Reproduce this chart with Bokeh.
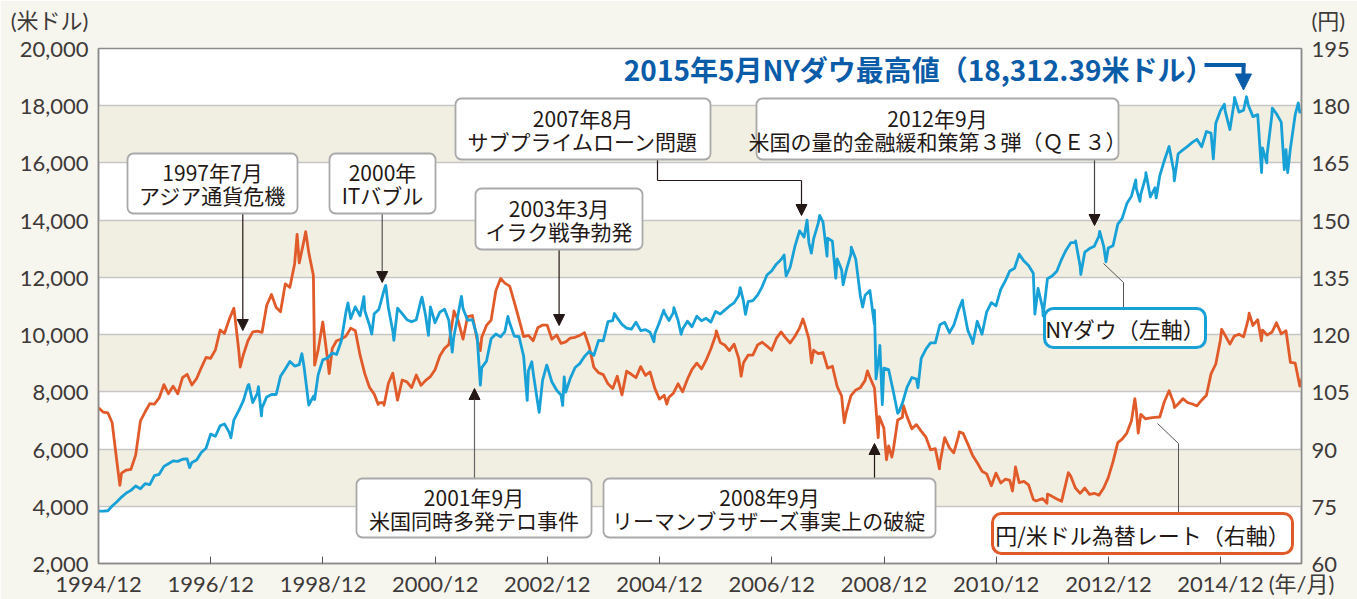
import pandas as pd
import numpy as np
from bokeh.plotting import figure
from bokeh.models import (Range1d, LinearAxis, FixedTicker, NumeralTickFormatter,
                          DatetimeTickFormatter, BoxAnnotation, Label, Arrow, NormalHead)
from bokeh.embed import file_html
from bokeh.resources import INLINE

FONT = "Noto Sans CJK JP"
TICK_FONT = "Lato, Noto Sans CJK JP"

# ---------------- data ----------------
x_tick_dates = ["1994-12-01", "1996-12-01", "1998-12-01", "2000-12-01", "2002-12-01",
                "2004-12-01", "2006-12-01", "2008-12-01", "2010-12-01", "2012-12-01", "2014-12-01"]
x_tick_labels = ["1994/12", "1996/12", "1998/12", "2000/12", "2002/12", "2004/12",
                 "2006/12", "2008/12", "2010/12", "2012/12", "2014/12"]
x_unit = "(年/月)"
dow_ticks = [2000, 4000, 6000, 8000, 10000, 12000, 14000, 16000, 18000, 20000]
dow_unit = "(米ドル)"
yen_ticks = [60, 75, 90, 105, 120, 135, 150, 165, 180, 195]
yen_unit = "(円)"

# NY Dow (US$) month-end values, 1994/12 .. 2016/05
dow_start = ("1994-12-01", 3830)
dow_monthly = [
    3834,
    3843, 4011, 4158, 4321, 4465, 4556, 4708, 4611, 4789, 4756, 5075, 5117,
    5395, 5485, 5587, 5569, 5643, 5655, 5529, 5616, 5882, 6029, 6522, 6448,
    6813, 6878, 6584, 7009, 7331, 7673, 8223, 7622, 7945, 7442, 7823, 7908,
    7907, 8546, 8800, 9063, 8900, 8952, 8883, 7539, 7843, 8592, 9117, 9181,
    9359, 9307, 9786, 10789, 10560, 10971, 10655, 10829, 10337, 10729, 10878, 11497,
    10941, 10128, 10922, 10734, 10522, 10448, 10522, 11215, 10651, 10971, 10415, 10787,
    10887, 10495, 9879, 10735, 10912, 10502, 10523, 9950, 8848, 9075, 9852, 10022,
    9920, 10106, 10404, 9946, 9925, 9243, 8737, 8664, 7592, 8397, 8896, 8342,
    8054, 7891, 7992, 8480, 8850, 8985, 9234, 9416, 9275, 9801, 9782, 10454,
    10488, 10584, 10358, 10226, 10188, 10435, 10140, 10174, 10080, 10027, 10428, 10783,
    10490, 10766, 10504, 10193, 10467, 10275, 10641, 10482, 10569, 10440, 10806, 10718,
    10865, 10993, 11109, 11367, 11168, 11150, 11186, 11381, 11679, 12081, 12222, 12463,
    12622, 12269, 12354, 13063, 13628, 13409, 13212, 13358, 13896, 13930, 13372, 13265,
    12650, 12266, 12263, 12820, 12638, 11350, 11378, 11544, 10851, 9325, 8829, 8776,
    8001, 7250, 7609, 8168, 8500, 8447, 9172, 9496, 9712, 9713, 10345, 10428,
    10067, 10325, 10857, 11009, 10137, 9774, 10466, 10015, 10788, 11118, 11006, 11578,
    11892, 12226, 12320, 12811, 12570, 12414, 12143, 11614, 10913, 11955, 12046, 12218,
    12633, 12952, 13212, 13214, 12393, 12880, 13009, 13091, 13437, 13096, 13026, 13104,
    13861, 14054, 14579, 14840, 15116, 14910, 15500, 14810, 15130, 15546, 16086, 16577,
    15699, 16322, 16458, 16581, 16717, 16827, 16563, 17098, 17043, 17391, 17828, 17823,
    17165, 18133, 17776, 17841, 18011, 17620, 17690, 16528, 16285, 17664, 17720, 17425,
    16466, 16517, 17685, 17774, 17787,
]
# intra-month highs / lows
dow_extra = [
    ("1996-07-16", 5350), ("1997-04-11", 6391), ("1997-08-06", 8259), ("1997-10-07", 8178),
    ("1997-10-27", 7161), ("1998-07-17", 9338), ("1998-10-08", 7732), ("1999-05-13", 11107),
    ("1999-08-25", 11326), ("1999-10-15", 10019), ("2000-01-14", 11723), ("2000-03-07", 9796),
    ("2000-09-06", 11310), ("2000-10-18", 9976), ("2001-03-22", 9389), ("2001-05-21", 11337),
    ("2001-09-21", 8236), ("2002-03-19", 10635), ("2002-07-23", 7702), ("2002-08-22", 9053),
    ("2002-10-09", 7286), ("2002-11-27", 8931), ("2003-03-11", 7524), ("2003-03-21", 8522),
    ("2004-02-11", 10737), ("2004-10-25", 9750), ("2004-12-28", 10854), ("2005-03-04", 10940),
    ("2005-04-20", 10012), ("2006-05-10", 11642), ("2006-06-13", 10707), ("2007-02-20", 12786),
    ("2007-03-05", 12050), ("2007-07-19", 14000), ("2007-08-16", 12846), ("2007-10-09", 14165),
    ("2007-11-26", 12744), ("2008-01-22", 11971), ("2008-03-10", 11740), ("2008-05-02", 13058),
    ("2008-07-15", 10963), ("2008-09-29", 10365), ("2008-10-10", 8451), ("2008-11-04", 9625),
    ("2008-11-20", 7552), ("2009-03-09", 7300), ("2009-07-10", 8146), ("2010-04-26", 11205),
    ("2010-07-02", 9686), ("2011-08-10", 10720), ("2011-10-03", 10655), ("2012-05-01", 13279),
    ("2012-06-04", 12101), ("2012-10-05", 13610), ("2012-11-15", 12543), ("2013-05-28", 15409),
    ("2013-06-24", 14660), ("2013-08-02", 15658), ("2013-10-08", 14776), ("2014-02-03", 15373),
    ("2014-10-15", 16142), ("2014-12-26", 18053), ("2015-03-02", 18288), ("2015-05-19", 18312),
    ("2015-08-25", 15666), ("2015-09-28", 16001), ("2015-11-03", 17918), ("2016-01-20", 15766),
    ("2016-02-11", 15660), ("2016-04-20", 18096),
]

# Yen / US$ month-end values, 1994/12 .. 2016/05
yen_start = ("1994-12-01", 100.8)
yen_monthly = [
    99.7,
    99.5, 96.9, 86.6, 83.7, 84.5, 84.7, 88.4, 97.4, 99.7, 101.9, 101.8, 103.4,
    106.9, 104.5, 106.5, 104.5, 108.7, 109.6, 106.8, 108.5, 111.3, 114.0, 113.8, 116.0,
    121.2, 120.3, 124.0, 126.9, 116.3, 114.6, 118.4, 120.7, 120.9, 120.6, 127.7, 130.5,
    127.1, 126.0, 133.3, 132.4, 138.6, 138.8, 144.7, 141.5, 135.5, 116.0, 123.3, 113.6,
    116.4, 118.4, 118.8, 119.6, 121.7, 121.0, 114.6, 109.7, 106.2, 104.4, 102.1, 102.2,
    107.2, 109.9, 102.8, 108.1, 107.6, 106.1, 109.4, 106.7, 108.0, 109.0, 110.8, 114.4,
    116.4, 117.4, 125.5, 123.6, 118.8, 124.7, 125.0, 118.7, 119.3, 122.4, 123.8, 131.5,
    134.7, 133.5, 132.7, 128.5, 124.0, 119.5, 119.8, 118.4, 121.8, 122.5, 122.5, 118.8,
    119.9, 117.7, 118.1, 119.1, 119.3, 119.8, 120.5, 116.8, 111.4, 110.0, 109.5, 107.1,
    105.9, 109.1, 104.2, 110.4, 109.6, 108.7, 111.6, 109.3, 110.2, 105.9, 103.1, 104.1,
    103.6, 104.6, 107.1, 105.0, 108.3, 110.9, 112.5, 111.0, 113.3, 116.3, 119.7, 117.9,
    117.2, 115.8, 117.5, 113.8, 112.6, 114.6, 114.6, 117.3, 118.0, 117.0, 115.9, 119.0,
    120.7, 119.2, 117.8, 119.5, 121.7, 123.2, 118.9, 115.9, 115.0, 115.3, 111.2, 111.7,
    106.4, 103.9, 99.7, 104.0, 105.5, 106.1, 108.0, 108.8, 106.0, 98.5, 95.5, 90.8,
    89.9, 97.6, 98.3, 98.5, 95.3, 96.4, 94.7, 93.1, 89.8, 90.1, 86.3, 93.0,
    90.3, 89.0, 93.4, 94.1, 91.3, 88.4, 86.4, 84.2, 83.5, 80.4, 83.7, 81.1,
    82.1, 81.8, 83.1, 81.2, 81.5, 80.6, 76.8, 76.6, 77.0, 78.2, 77.6, 76.9,
    76.3, 81.2, 82.9, 79.8, 78.4, 79.8, 78.1, 78.4, 77.9, 79.8, 82.5, 86.7,
    91.7, 92.6, 94.2, 97.4, 100.5, 99.1, 97.9, 98.2, 98.3, 98.4, 102.4, 105.3,
    102.0, 101.8, 103.2, 102.2, 101.8, 101.3, 102.8, 104.1, 109.7, 112.3, 118.6, 119.8,
    117.5, 119.6, 120.1, 119.4, 124.1, 122.4, 123.9, 121.2, 119.9, 120.6, 123.1, 120.2,
    121.0, 112.7, 112.5, 106.5, 110.7,
]
yen_extra = [
    ("1995-04-19", 80.5), ("1997-05-01", 126.8), ("1997-06-11", 111.5), ("1998-06-16", 146.3),
    ("1998-08-11", 147.0), ("1998-10-08", 112.0), ("1999-01-11", 109.8), ("1999-11-26", 101.7),
    ("2000-01-03", 101.5), ("2001-04-02", 126.2), ("2001-09-21", 115.8), ("2005-01-17", 101.8),
    ("2005-12-05", 121.0), ("2006-05-16", 109.1), ("2007-06-22", 124.1), ("2007-08-17", 112.6),
    ("2008-03-17", 96.9), ("2008-08-15", 110.5), ("2008-10-24", 93.0), ("2008-12-17", 87.2),
    ("2009-01-21", 87.9), ("2009-04-06", 101.4), ("2009-11-27", 84.8), ("2010-04-05", 94.5),
    ("2011-03-17", 79.0), ("2011-04-06", 85.3), ("2011-08-19", 76.4), ("2011-10-28", 75.8),
    ("2012-03-15", 83.8), ("2013-05-22", 103.2), ("2013-06-13", 94.2), ("2014-02-04", 100.9),
    ("2014-12-08", 121.4), ("2015-06-05", 125.6), ("2015-08-24", 118.4),
]


# ---------------- helpers ----------------
def to_ms(ts):
    return float(pd.Timestamp(ts).value // 10**6)


def series(start, monthly, extra):
    ends = pd.date_range("1995-01-01", periods=len(monthly), freq="MS") - pd.Timedelta(days=1)
    d = [pd.Timestamp(start[0])] + list(ends) + [pd.Timestamp(a) for a, _ in extra]
    v = [start[1]] + list(monthly) + [b for _, b in extra]
    df = pd.DataFrame({"d": d, "v": v}).sort_values("d")
    return [to_ms(t) for t in df["d"]], df["v"].to_numpy(float)


T0 = to_ms("1994-12-01")
T1 = to_ms("2016-05-11")
FX0, FX1, FY0, FY1 = 98.0, 1301.0, 48.0, 563.0   # frame in page pixels


def X(px):
    return T0 + (px - FX0) / (FX1 - FX0) * (T1 - T0)


def Y(py):
    return 20000 - (py - FY0) / (FY1 - FY0) * 18000


# ---------------- figure ----------------
BG = "#f7f6ee"
BAND = "#f1eee2"
BLUE = "#17a1d7"
ORANGE = "#e15a29"
TXT = "#231815"
AXC = "#8c8c8c"
LBL = "#3e3a39"

p = figure(width=1357, height=599, x_axis_type="datetime",
           x_range=Range1d(T0, T1), y_range=Range1d(2000, 20000),
           output_backend="svg", toolbar_location=None,
           min_border_left=98, min_border_right=56, min_border_top=48, min_border_bottom=36,
           background_fill_color="white", border_fill_color=BG,
           outline_line_color=AXC, outline_line_width=1.5)

x_ticks = [to_ms(d) for d in x_tick_dates]
xa = p.xaxis[0]
xa.ticker = FixedTicker(ticks=x_ticks + [T1])
xa.formatter = DatetimeTickFormatter(years="%Y/%m", months="%Y/%m", days="%Y/%m")
xo = {t: lab for t, lab in zip(x_ticks, x_tick_labels)}
xo[T1] = x_unit
xa.major_label_overrides = xo
xa.major_tick_in = 7
xa.major_tick_out = 0
xa.major_tick_line_color = "#555555"
xa.minor_tick_line_color = None
xa.major_label_standoff = 6

ya = p.yaxis[0]
ya.ticker = FixedTicker(ticks=dow_ticks)
ya.formatter = NumeralTickFormatter(format="0,0")
ya.major_label_overrides = {dow_ticks[-1]: dow_unit + "\n" + "{:,}".format(dow_ticks[-1]) + "\n "}
ya.major_tick_in = 0
ya.major_tick_out = 0
ya.minor_tick_line_color = None
ya.major_label_standoff = 10

p.extra_y_ranges = {"yen": Range1d(yen_ticks[0], yen_ticks[-1])}
ra = LinearAxis(y_range_name="yen", ticker=FixedTicker(ticks=yen_ticks))
ra.major_label_overrides = {yen_ticks[-1]: yen_unit + "\n" + str(yen_ticks[-1]) + "\n "}
ra.major_tick_in = 0
ra.major_tick_out = 0
ra.minor_tick_line_color = None
ra.major_label_standoff = 10
p.add_layout(ra, "right")

for ax in (xa, ya, ra):
    ax.axis_line_color = AXC
    ax.axis_line_width = 1.5
    ax.major_label_text_font = TICK_FONT
    ax.major_label_text_font_size = "22px"
    ax.major_label_text_color = LBL
    ax.major_label_text_line_height = 1.05

p.xgrid.visible = False
p.ygrid.ticker = FixedTicker(ticks=dow_ticks)
p.ygrid.grid_line_color = "#c6c6c6"
p.ygrid.grid_line_width = 1.5

# alternating bands
for i in range(1, len(dow_ticks) - 1, 2):
    p.add_layout(BoxAnnotation(bottom=dow_ticks[i], top=dow_ticks[i + 1],
                               fill_color=BAND, fill_alpha=1, line_alpha=0, level="image"))

# series
yx, yv = series(yen_start, yen_monthly, yen_extra)
dx, dv = series(dow_start, dow_monthly, dow_extra)
p.line(yx, yv, y_range_name="yen", line_color=ORANGE, line_width=2.8, line_join="round")
p.line(dx, dv, line_color=BLUE, line_width=2.8, line_join="round")


# ---------------- annotations ----------------
def label(px, py, text, size="21px", color=TXT, align="center", bold=False):
    p.add_layout(Label(x=X(px), y=Y(py), text=text, text_font=FONT, text_font_size=size,
                       text_color=color, text_align=align, text_baseline="middle",
                       text_font_style="bold" if bold else "normal"))


def box(l, t, r, b, color="#a9a9a9", width=1.8, radius=6):
    p.add_layout(BoxAnnotation(left=X(l), right=X(r), top=Y(t), bottom=Y(b),
                               fill_color="white", fill_alpha=1, line_color=color,
                               line_alpha=1, line_width=width, border_radius=radius,
                               level="annotation"))


def seg(x0, y0, x1, y1, color="#444444", width=1.2, head=None):
    p.add_layout(Arrow(x_start=X(x0), y_start=Y(y0), x_end=X(x1), y_end=Y(y1),
                       line_color=color, line_width=width, end=head, level="annotation"))


def head(size=11, color=TXT):
    return NormalHead(size=size, fill_color=color, line_color=color, line_width=1)


events = [
    ((127, 153, 297, 213), "1997年7月", "アジア通貨危機"),
    ((329, 153, 435, 213), "2000年", "ITバブル"),
    ((475, 188, 642, 249), "2003年3月", "イラク戦争勃発"),
    ((455, 98, 710, 159), "2007年8月", "サブプライムローン問題"),
    ((756, 98, 1118, 159), "2012年9月", "米国の量的金融緩和策第３弾（ＱＥ３）"),
    ((356, 478, 591, 537), "2001年9月", "米国同時多発テロ事件"),
    ((603, 478, 935, 537), "2008年9月", "リーマンブラザーズ事実上の破綻"),
]

# leader lines / arrows
seg(242.3, 213, 242.3, 330, color=TXT, head=head())
seg(381.7, 213, 381.7, 282, color="#555555", head=head())
seg(558.6, 249, 558.6, 325, color=TXT, head=head())
seg(657, 159, 657, 180, color=TXT)
seg(657, 180, 801, 180, color=TXT)
seg(801, 180, 801, 215, color=TXT, head=head())
seg(1094, 159, 1094, 225, color="#444444", head=head())
seg(474, 478, 474, 388, color="#666666", head=head())
seg(874, 478, 874, 443, color=TXT, head=head())
seg(1123, 308, 1123, 282, color="#555555", width=1)
seg(1123, 282, 1103, 263, color="#555555", width=1)
seg(1178, 513, 1178, 443, color="#555555", width=1)
seg(1178, 443, 1157, 423, color="#555555", width=1)

for (l, t, r, b), l1, l2 in events:
    box(l, t, r, b)
    cx = (l + r) / 2
    cy = (t + b) / 2
    label(cx, cy - 11.5, l1)
    label(cx, cy + 11.5, l2)

# series labels
box(1044, 308, 1205, 347, color=BLUE, width=3, radius=9)
label(1124.5, 327.5, "NYダウ（左軸）", size="22px")
box(992, 513, 1292, 553, color=ORANGE, width=3, radius=9)
label(1142, 533, "円/米ドル為替レート（右軸）", size="22px")

# record high callout
TB = "#0b5ca8"
label(1213, 68, "2015年5月NYダウ最高値（18,312.39米ドル）", size="28px", color=TB, align="right", bold=True)
seg(1204, 64.5, 1245, 64.5, color=TB, width=4)
seg(1243, 63, 1243, 89.5, color=TB, width=4, head=head(size=16, color=TB))

html = file_html(p, INLINE)
html = html.replace("<body>", '<body style="background:%s;">' % BG, 1)
open("out.html", "w").write(html)
